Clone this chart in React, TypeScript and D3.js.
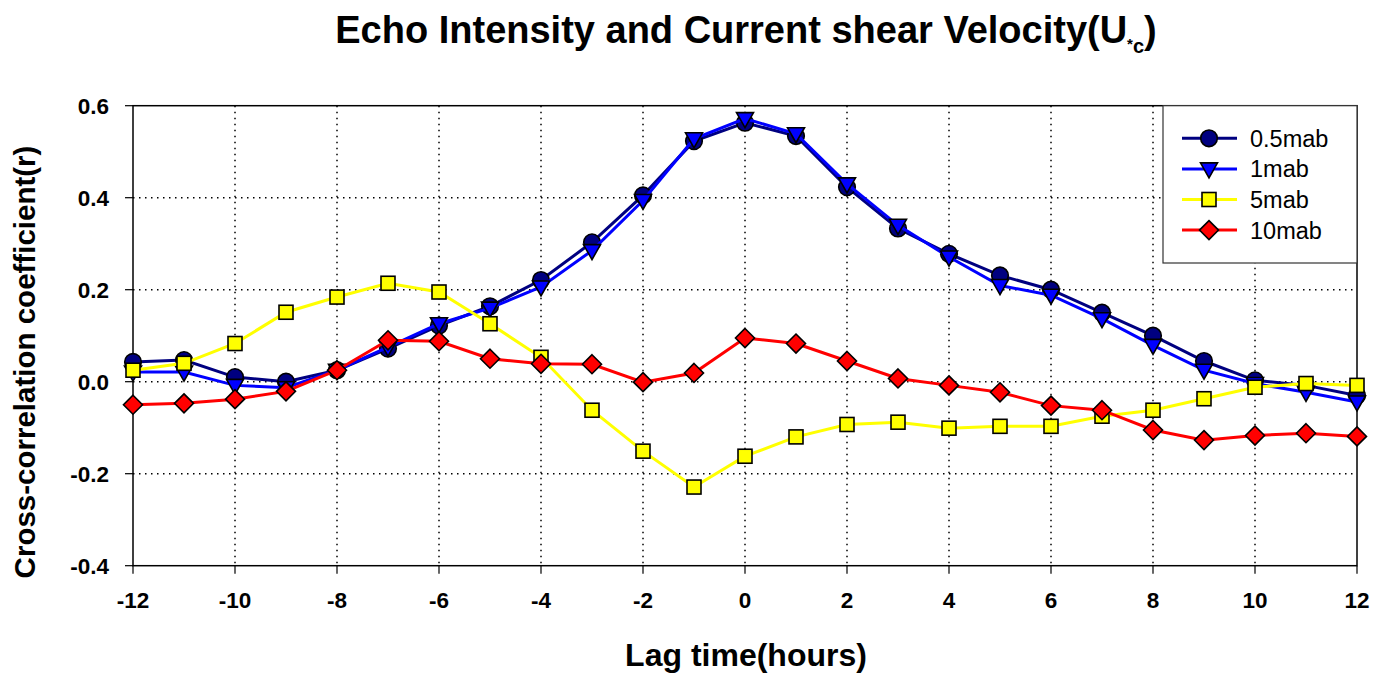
import React from "react";
import * as d3 from "d3";

const lags = [-12,-11,-10,-9,-8,-7,-6,-5,-4,-3,-2,-1,0,1,2,3,4,5,6,7,8,9,10,11,12];
const mab05 = [0.043,0.047,0.01,0.0,0.025,0.072,0.122,0.164,0.221,0.303,0.405,0.523,0.563,0.534,0.423,0.333,0.278,0.231,0.2,0.15,0.1,0.045,0.003,-0.008,-0.03];
const mab1 = [0.021,0.021,-0.008,-0.013,0.025,0.075,0.126,0.16,0.206,0.285,0.394,0.528,0.572,0.539,0.43,0.34,0.271,0.209,0.188,0.137,0.079,0.025,-0.004,-0.023,-0.044];
const mab5 = [0.025,0.04,0.083,0.151,0.184,0.214,0.195,0.126,0.053,-0.062,-0.151,-0.229,-0.162,-0.12,-0.093,-0.088,-0.101,-0.097,-0.097,-0.075,-0.062,-0.037,-0.012,-0.004,-0.008];
const mab10 = [-0.05,-0.047,-0.038,-0.021,0.025,0.09,0.088,0.05,0.039,0.038,-0.001,0.019,0.095,0.083,0.045,0.007,-0.008,-0.023,-0.052,-0.062,-0.105,-0.127,-0.117,-0.112,-0.119];
const xTicks = [-12,-10,-8,-6,-4,-2,0,2,4,6,8,10,12];
const yTicks = [-0.4,-0.2,0.0,0.2,0.4,0.6];

const seriesNames = ["0.5mab", "1mab", "5mab", "10mab"];
const seriesData = [mab05, mab1, mab5, mab10];
const lineColors = ["#000080", "#0000ff", "#ffff00", "#ff0000"];
const markerTypes = ["circle", "triangle", "square", "diamond"];

const FONT = "Liberation Sans, Arial, sans-serif";

function Marker({ type, x, y, fill }: { type: string; x: number; y: number; fill: string }) {
  const sw = 1.6;
  if (type === "circle") return <circle cx={x} cy={y} r={8.3} fill={fill} stroke="#000" strokeWidth={sw} />;
  if (type === "triangle") {
    const w = 8.5;
    return <path d={`M${x - w},${y - 6} L${x + w},${y - 6} L${x},${y + 9} Z`} fill={fill} stroke="#000" strokeWidth={sw} />;
  }
  if (type === "square") {
    const s = 7;
    return <rect x={x - s} y={y - s} width={2 * s} height={2 * s} fill={fill} stroke="#000" strokeWidth={sw} />;
  }
  const d = 9.5;
  return <path d={`M${x},${y - d} L${x + d},${y} L${x},${y + d} L${x - d},${y} Z`} fill={fill} stroke="#000" strokeWidth={sw} />;
}

export default function App() {
  const W = 1389, H = 675;
  const x0 = 133, x1 = 1357, yTop = 105.7, yBot = 565.7;
  const x = d3.scaleLinear().domain([-12, 12]).range([x0, x1]);
  const y = d3.scaleLinear().domain([-0.4, 0.6]).range([yBot, yTop]);
  const line = d3.line<number>().x((_, i) => x(lags[i])).y((d) => y(d));

  const markerFill = ["#000080", "#0000ff", "#ffff00", "#ff0000"];

  return (
    <svg width={W} height={H} style={{ position: "absolute", left: 0, top: 0 }} fontFamily={FONT}>
      <rect width={W} height={H} fill="#fff" />
      {/* title */}
      <text x={746} y={43} textAnchor="middle" fontSize={38} fontWeight="bold">
        Echo Intensity and Current shear Velocity(U
        <tspan fontSize={15} dy={6}>*</tspan>
        <tspan fontSize={20} dy={4}>c</tspan>
        <tspan dy={-10}>)</tspan>
      </text>
      {/* grid */}
      {xTicks.filter((t) => t !== -12 && t !== 12).map((t) => (
        <line key={"gx" + t} x1={x(t)} x2={x(t)} y1={yTop} y2={yBot} stroke="#000" strokeWidth={1.5} strokeDasharray="1.5,4.5" />
      ))}
      {yTicks.filter((t) => t !== -0.4 && t !== 0.6).map((t) => (
        <line key={"gy" + t} x1={x0} x2={x1} y1={y(t)} y2={y(t)} stroke="#000" strokeWidth={1.5} strokeDasharray="1.5,4.5" />
      ))}
      {/* frame */}
      <rect x={x0} y={yTop} width={x1 - x0} height={yBot - yTop} fill="none" stroke="#000" strokeWidth={1.5} />
      {/* ticks */}
      {xTicks.map((t) => (
        <g key={"tx" + t}>
          <line x1={x(t)} x2={x(t)} y1={yBot} y2={yBot + 8} stroke="#000" strokeWidth={1.2} />
          <text x={x(t)} y={yBot + 42} textAnchor="middle" fontSize={22.5} fontWeight="bold">{t}</text>
        </g>
      ))}
      {yTicks.map((t) => (
        <g key={"ty" + t}>
          <line x1={x0 - 8} x2={x0} y1={y(t)} y2={y(t)} stroke="#000" strokeWidth={1.2} />
          <text x={x0 - 24} y={y(t) + 8} textAnchor="end" fontSize={22.5} fontWeight="bold">{t.toFixed(1)}</text>
        </g>
      ))}
      {/* axis labels */}
      <text x={746} y={666} textAnchor="middle" fontSize={32} fontWeight="bold">Lag time(hours)</text>
      <text transform={`translate(35,362) rotate(-90)`} textAnchor="middle" fontSize={29.5} fontWeight="bold">Cross-correlation coefficient(r)</text>
      {/* series */}
      {seriesData.map((s, si) => (
        <g key={"s" + si}>
          <path d={line(s) || ""} fill="none" stroke={lineColors[si]} strokeWidth={3} />
          {s.map((v, i) => (
            <Marker key={i} type={markerTypes[si]} x={x(lags[i])} y={y(v)} fill={markerFill[si]} />
          ))}
        </g>
      ))}
      {/* legend */}
      <rect x={1163} y={yTop} width={x1 - 1163} height={263 - yTop} fill="#fff" stroke="#333" strokeWidth={1.2} />
      {seriesNames.map((n, i) => {
        const ly = 138.3 + i * 30.6;
        return (
          <g key={"l" + i}>
            <line x1={1182} x2={1237} y1={ly} y2={ly} stroke={lineColors[i]} strokeWidth={3} />
            <Marker type={markerTypes[i]} x={1209} y={ly} fill={markerFill[i]} />
            <text x={1250} y={ly + 8.5} fontSize={23.5}>{n}</text>
          </g>
        );
      })}
    </svg>
  );
}
